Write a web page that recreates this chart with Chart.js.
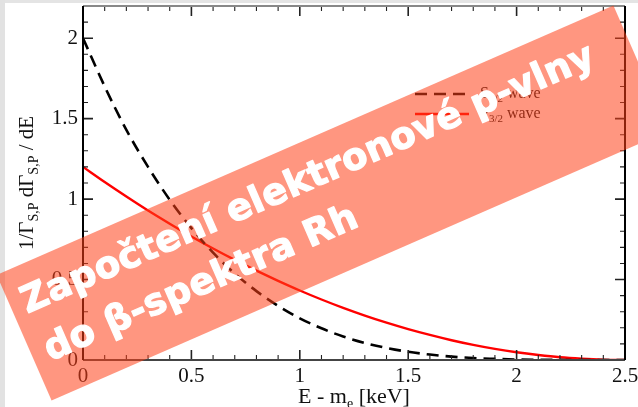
<!DOCTYPE html>
<html>
<head>
<meta charset="utf-8">
<script src="https://cdn.jsdelivr.net/npm/chart.js@4.4.0/dist/chart.umd.min.js"></script>
<style>
    html, body { margin: 0; padding: 0; background: #fff; }
    #wrap { position: relative; width: 638px; height: 407px; overflow: hidden; background: #fff; }
    .strip-top { position: absolute; left: 0; top: 0; width: 638px; height: 3px; background: #e4e4e4; }
    .strip-left { position: absolute; left: 0; top: 0; width: 5px; height: 407px; background: #e2e2e2; }
    canvas { position: absolute; left: 0; top: 0; }
</style>
</head>
<body>
<div id="wrap">
    <div class="strip-top"></div>
    <div class="strip-left"></div>
    <canvas id="spectrumChart" width="638" height="407"></canvas>
</div>
<script>
// E - m_e [keV]
const energies = [0, 0.1, 0.2, 0.3, 0.4, 0.5, 0.6, 0.7, 0.8, 0.9, 1.0, 1.1, 1.2,
    1.3, 1.4, 1.5, 1.6, 1.7, 1.8, 1.9, 2.0, 2.1, 2.2, 2.3, 2.4, 2.5];

// S1/2 wave (black dashed)
const sWave = [2.00, 1.70, 1.43, 1.20, 0.996, 0.82, 0.667, 0.537, 0.428, 0.336, 0.259, 0.197, 0.146,
    0.106, 0.075, 0.051, 0.034, 0.021, 0.012, 0.007, 0.003, 0.001, 0.0005, 0, 0, 0];

// P3/2 wave (red)
const pWave = [1.20, 1.106, 1.016, 0.929, 0.847, 0.768, 0.693, 0.622, 0.555, 0.492, 0.432, 0.376, 0.324,
    0.276, 0.232, 0.192, 0.156, 0.123, 0.094, 0.069, 0.048, 0.031, 0.017, 0.008, 0.002, 0];

const xTickValues = [0, 0.5, 1, 1.5, 2, 2.5];
const yTickValues = [0, 0.5, 1, 1.5, 2];

const bannerLines = ['Započtení elektronové p-vlny', 'do β-spektra Rh'];

const SERIF = '"Liberation Serif", "Times New Roman", serif';

// Draw text made of parts, some of them subscripts
function drawRich(ctx, parts, x, y, align) {
    let total = 0;
    parts.forEach(p => {
        ctx.font = p.size + 'px ' + SERIF;
        total += ctx.measureText(p.t).width;
    });
    let cx = align === 'center' ? x - total / 2 : x;
    ctx.textAlign = 'left';
    ctx.textBaseline = 'alphabetic';
    parts.forEach(p => {
        ctx.font = p.size + 'px ' + SERIF;
        ctx.fillText(p.t, cx, y + (p.dy || 0));
        cx += ctx.measureText(p.t).width;
    });
}

// Frame with inward ticks on all four sides, axis titles, legend
const framePlugin = {
    id: 'frame',
    afterDatasetsDraw(chart) {
        const ctx = chart.ctx;
        const a = chart.chartArea;
        const xs = chart.scales.x;
        const ys = chart.scales.y;
        ctx.save();

        // minor + major ticks
        ctx.strokeStyle = '#222';
        for (let i = 0; i <= 25; i++) {
            const px = xs.getPixelForValue(i / 10);
            const len = i % 5 === 0 ? 10 : 5;
            ctx.lineWidth = i % 5 === 0 ? 1.6 : 1.1;
            ctx.beginPath();
            ctx.moveTo(px, a.bottom); ctx.lineTo(px, a.bottom - len);
            ctx.moveTo(px, a.top); ctx.lineTo(px, a.top + len);
            ctx.stroke();
        }
        for (let i = 0; i <= 22; i++) {
            const py = ys.getPixelForValue(i / 10);
            const len = i % 5 === 0 ? 10 : 5;
            ctx.lineWidth = i % 5 === 0 ? 1.6 : 1.1;
            ctx.beginPath();
            ctx.moveTo(a.left, py); ctx.lineTo(a.left + len, py);
            ctx.moveTo(a.right, py); ctx.lineTo(a.right - len, py);
            ctx.stroke();
        }

        // frame
        ctx.lineWidth = 2;
        ctx.strokeStyle = '#888';
        ctx.beginPath(); ctx.moveTo(a.left, a.top); ctx.lineTo(a.right, a.top); ctx.stroke();
        ctx.strokeStyle = '#444';
        ctx.beginPath(); ctx.moveTo(a.left, a.bottom); ctx.lineTo(a.right, a.bottom); ctx.stroke();
        ctx.strokeStyle = '#000';
        ctx.beginPath(); ctx.moveTo(a.left, a.top); ctx.lineTo(a.left, a.bottom); ctx.stroke();
        ctx.beginPath(); ctx.moveTo(a.right, a.top); ctx.lineTo(a.right, a.bottom); ctx.stroke();

        // axis titles
        ctx.fillStyle = '#111';
        drawRich(ctx, [
            { t: 'E - m', size: 22 },
            { t: 'e', size: 14, dy: 5 },
            { t: ' [keV]', size: 22 }
        ], (a.left + a.right) / 2, 403, 'center');

        ctx.save();
        ctx.translate(0, (a.top + a.bottom) / 2);
        ctx.rotate(-Math.PI / 2);
        drawRich(ctx, [
            { t: '1/Γ', size: 21 },
            { t: 'S,P', size: 14, dy: 5 },
            { t: ' dΓ', size: 21 },
            { t: 'S,P', size: 14, dy: 5 },
            { t: ' / dE', size: 21 }
        ], 0, 33, 'center');
        ctx.restore();

        // legend
        const sets = chart.data.datasets;
        const rows = [
            { ds: sets[0], y: 94, base: 98, sub: '1/2', name: 'S' },
            { ds: sets[1], y: 114, base: 118, sub: '3/2', name: 'P' }
        ];
        rows.forEach(r => {
            ctx.strokeStyle = r.ds.borderColor;
            ctx.lineWidth = r.ds.borderWidth;
            ctx.setLineDash(r.ds.borderDash || []);
            ctx.beginPath();
            ctx.moveTo(415, r.y);
            ctx.lineTo(469, r.y);
            ctx.stroke();
            ctx.setLineDash([]);
            ctx.fillStyle = '#111';
            drawRich(ctx, [
                { t: r.name, size: 16 },
                { t: r.sub, size: 11, dy: 4 },
                { t: ' wave', size: 16 }
            ], 480, r.base, 'left');
        });
        ctx.restore();
    }
};

// Rotated semi-transparent title banner on top of the plot
const bannerPlugin = {
    id: 'banner',
    afterDraw(chart) {
        const ctx = chart.ctx;
        ctx.save();
        ctx.translate(332.5, 203);
        ctx.rotate(-23.6 * Math.PI / 180);
        ctx.fillStyle = 'rgba(255, 64, 24, 0.55)';
        ctx.fillRect(-336.5, -68.5, 673, 137);

        ctx.fillStyle = '#fff';
        ctx.strokeStyle = '#fff';
        ctx.lineWidth = 1.2;
        ctx.lineJoin = 'round';
        ctx.textAlign = 'left';
        ctx.textBaseline = 'alphabetic';
        ctx.font = 'bold 37px "DejaVu Sans", sans-serif';
        ctx.letterSpacing = '0px';
        const w0 = ctx.measureText(bannerLines[0]).width;
        const ls = (622 - w0) / bannerLines[0].length;
        ctx.letterSpacing = ls.toFixed(2) + 'px';
        ctx.fillText(bannerLines[0], -324, -21);
        ctx.strokeText(bannerLines[0], -324, -21);
        ctx.fillText(bannerLines[1], -322, 32);
        ctx.strokeText(bannerLines[1], -322, 32);
        ctx.restore();
    }
};

function createSpectrumChart() {
    const ctx = document.getElementById('spectrumChart').getContext('2d');

    return new Chart(ctx, {
        type: 'line',
        data: {
            labels: energies,
            datasets: [{
                label: 'S1/2 wave',
                data: energies.map((e, i) => ({ x: e, y: sWave[i] })),
                borderColor: '#000',
                borderWidth: 2.6,
                borderDash: [12, 7],
                pointRadius: 0,
                fill: false,
                cubicInterpolationMode: 'monotone'
            }, {
                label: 'P3/2 wave',
                data: energies.map((e, i) => ({ x: e, y: pWave[i] })),
                borderColor: '#ff0000',
                borderWidth: 2.4,
                pointRadius: 0,
                fill: false,
                cubicInterpolationMode: 'monotone'
            }]
        },
        options: {
            responsive: false,
            animation: false,
            layout: {
                padding: { left: 0, right: 13, top: 6, bottom: 0 }
            },
            plugins: {
                legend: { display: false },
                tooltip: { enabled: false }
            },
            scales: {
                x: {
                    type: 'linear',
                    min: 0,
                    max: 2.5,
                    grid: { display: false, drawTicks: false, tickLength: 0 },
                    border: { display: false },
                    afterBuildTicks: scale => { scale.ticks = xTickValues.map(v => ({ value: v })); },
                    afterFit: scale => {
                        scale.height = 47;
                        scale.paddingLeft = 0; scale.paddingRight = 0;
                    },
                    ticks: {
                        color: '#111',
                        padding: 4,
                        maxRotation: 0,
                        autoSkip: false,
                        font: { family: SERIF, size: 21 },
                        callback: v => String(v)
                    }
                },
                y: {
                    min: 0,
                    max: 2.2,
                    grid: { display: false, drawTicks: false, tickLength: 0 },
                    border: { display: false },
                    afterBuildTicks: scale => { scale.ticks = yTickValues.map(v => ({ value: v })); },
                    afterFit: scale => {
                        scale.width = 83;
                        scale.paddingTop = 0; scale.paddingBottom = 0;
                    },
                    ticks: {
                        color: '#111',
                        padding: 5,
                        autoSkip: false,
                        font: { family: SERIF, size: 21 },
                        callback: v => String(v)
                    }
                }
            }
        },
        plugins: [framePlugin, bannerPlugin]
    });
}

document.addEventListener('DOMContentLoaded', createSpectrumChart);
</script>
</body>
</html>
